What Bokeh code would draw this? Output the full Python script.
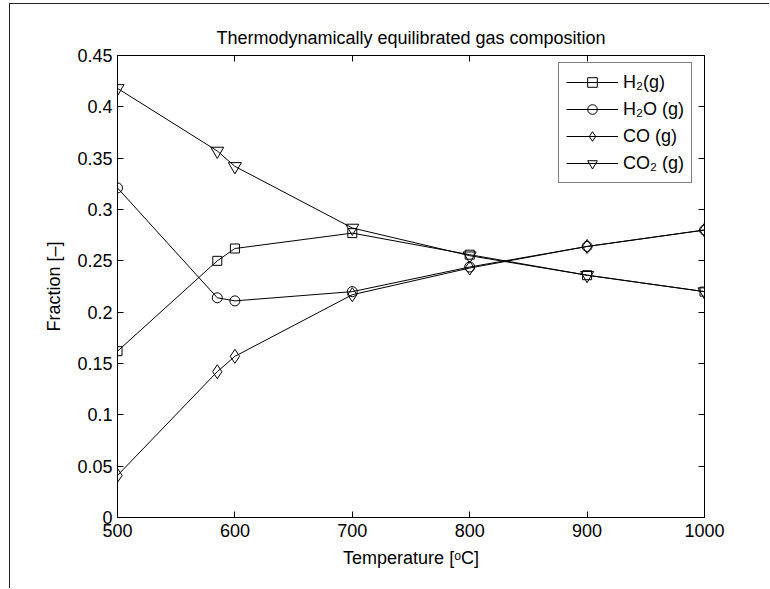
from bokeh.plotting import figure
from bokeh.models import (Legend, LegendItem, LinearAxis, FixedTicker, Range1d,
                          CustomLabelingPolicy)
from bokeh.embed import file_html
from bokeh.resources import INLINE

# ---- data ----
temperature = [500, 585, 600, 700, 800, 900, 1000]
h2 = [0.162, 0.250, 0.262, 0.277, 0.256, 0.236, 0.220]
h2o = [0.321, 0.214, 0.211, 0.220, 0.244, 0.264, 0.280]
co = [0.041, 0.142, 0.157, 0.217, 0.243, 0.264, 0.280]
co2 = [0.418, 0.357, 0.342, 0.282, 0.255, 0.236, 0.220]

x_ticks = [500, 600, 700, 800, 900, 1000]
y_ticks = [0, 0.05, 0.1, 0.15, 0.2, 0.25, 0.3, 0.35, 0.4, 0.45]
y_tick_labels = ["0", "0.05", "0.1", "0.15", "0.2", "0.25", "0.3", "0.35", "0.4", "0.45"]
series_labels = ["H\u2082(g)", "H\u2082O (g)", "CO (g)", "CO\u2082 (g)"]
markers = ["square", "circle", "diamond", "inverted_triangle"]
marker_sizes = [9, 10, 14, 13]

FONT = "Liberation Sans"
FS = "18px"

p = figure(width=760, height=585, output_backend="svg", toolbar_location=None,
           x_range=Range1d(500, 1000), y_range=Range1d(0, 0.45),
           min_border_left=107, min_border_right=66, min_border_top=51,
           min_border_bottom=72,
           title="Thermodynamically equilibrated gas composition")

p.background_fill_color = "white"
p.border_fill_color = "white"
p.outline_line_color = "black"
p.outline_line_width = 1
p.xgrid.visible = False
p.ygrid.visible = False

p.title.align = "center"
p.title.text_font = FONT
p.title.text_font_size = FS
p.title.text_font_style = "normal"
p.title.text_color = "black"
p.title.standoff = 15

for ax in (p.xaxis[0], p.yaxis[0]):
    ax.major_tick_in = 6
    ax.major_tick_out = 0
    ax.minor_tick_in = 0
    ax.minor_tick_out = 0
    ax.axis_line_color = "black"
    ax.major_tick_line_color = "black"
    ax.major_label_text_font = FONT
    ax.major_label_text_font_size = FS
    ax.major_label_text_color = "black"
    ax.axis_label_text_font = FONT
    ax.axis_label_text_font_size = FS
    ax.axis_label_text_font_style = "normal"
    ax.axis_label_text_color = "black"

p.xaxis.ticker = FixedTicker(ticks=x_ticks)
p.xaxis.major_label_standoff = 6
p.xaxis.axis_label = "Temperature [\u1d52C]"
p.xaxis.axis_label_standoff = 8

p.yaxis.ticker = FixedTicker(ticks=y_ticks)
p.yaxis.major_label_overrides = {t: l for t, l in zip(y_ticks, y_tick_labels)}
p.yaxis.major_label_standoff = 5
p.yaxis.axis_label = "Fraction [\u2013]"
p.yaxis.axis_label_standoff = 10

# box: ticks on top and right, pointing inward, no labels
no_labels_code = """
try { for (const i of Array.from(indices)) { indices.unset(i) } } catch (e) {}
return indices
"""
top_ax = LinearAxis(ticker=FixedTicker(ticks=x_ticks), major_tick_in=6, major_tick_out=0,
                    minor_tick_in=0, minor_tick_out=0, major_label_text_font_size="0px",
                    major_label_policy=CustomLabelingPolicy(code=no_labels_code),
                    axis_line_color="black")
right_ax = LinearAxis(ticker=FixedTicker(ticks=y_ticks), major_tick_in=6, major_tick_out=0,
                      minor_tick_in=0, minor_tick_out=0, major_label_text_font_size="0px",
                      major_label_policy=CustomLabelingPolicy(code=no_labels_code),
                      axis_line_color="black")
p.add_layout(top_ax, "above")
p.add_layout(right_ax, "right")

items = []
for ys, lab, mk, ms in zip([h2, h2o, co, co2], series_labels, markers, marker_sizes):
    ln = p.line(temperature, ys, line_color="black", line_width=1)
    sc = p.scatter(temperature, ys, marker=mk, size=ms, line_color="black",
                   line_width=1, fill_alpha=0)
    items.append(LegendItem(label=lab, renderers=[ln, sc]))

legend = Legend(items=items, location=(441, 334))
legend.border_line_color = "black"
legend.border_line_width = 1
legend.background_fill_color = "white"
legend.background_fill_alpha = 1
legend.label_text_font = FONT
legend.label_text_font_size = FS
legend.label_text_color = "black"
legend.glyph_width = 52
legend.glyph_height = 24
legend.label_height = 24
legend.label_standoff = 5
legend.spacing = 3
legend.padding = 7
legend.margin = 0
p.add_layout(legend)

p.styles = {"border-left": "1px solid #222", "border-top": "1px solid #222",
            "margin-left": "9px", "margin-top": "3px"}

open("out.html", "w").write(file_html(p, INLINE))
